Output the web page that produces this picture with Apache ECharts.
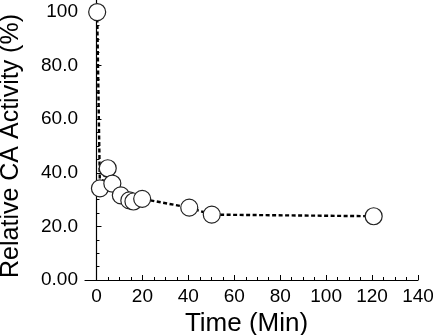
<!DOCTYPE html>
<html>
<head>
<meta charset="utf-8">
<script src="https://cdn.jsdelivr.net/npm/echarts@6/dist/echarts.min.js"></script>
<style>
html,body{margin:0;padding:0;background:#fff;}
#c{width:433px;height:335px;}
</style>
</head>
<body>
<div id="c"></div>
<script>
// Data
const timeMin = [0.3, 1.5, 4.9, 6.9, 10.6, 14.3, 16.1, 19.9, 40.4, 50.2, 120.7];
const activity = [100, 34.2, 41.7, 36, 31.6, 29.7, 29.3, 30.3, 27.0, 24.4, 23.8];

// Axis ticks and labels
const xMajorTicks = [0, 20, 40, 60, 80, 100, 120, 140];
const xMinorTicks = [5, 10, 15, 25, 30, 35, 45, 50, 55, 65, 70, 75, 85, 90, 95, 105, 110, 115, 125, 130, 135];
const yMajorTicks = [0, 20, 40, 60, 80, 100];
const yTickLabels = ['0.00', '20.0', '40.0', '60.0', '80.0', '100'];
const yMinorTicks = [5, 10, 15, 25, 30, 35, 45, 50, 55, 65, 70, 75, 85, 90, 95];

const FONT = 'Liberation Sans, Arial, sans-serif';
const INK = '#000';

const chart = echarts.init(document.getElementById('c'), null, {renderer: 'canvas'});
const grid = {left: 85, right: 15, top: 0, bottom: 55, containLabel: false, outerBoundsMode: 'none'};

const seriesData = timeMin.map((t, i) => [t, activity[i]]);

chart.setOption({
  animation: false,
  backgroundColor: '#fff',
  grid: grid,
  xAxis: [
    {
      type: 'value', min: -5, max: 140,
      name: 'Time (Min)', nameLocation: 'middle', nameGap: 29,
      nameTextStyle: {fontFamily: FONT, fontSize: 26, color: INK, padding: [0, 10, 0, 0]},
      axisLine: {show: true, lineStyle: {color: INK, width: 1.2}},
      axisTick: {show: true, inside: true, length: 5, customValues: xMajorTicks, lineStyle: {color: INK, width: 1}},
      axisLabel: {show: true, customValues: xMajorTicks, margin: 7, fontFamily: FONT, fontSize: 19, color: INK},
      splitLine: {show: false}
    },
    {
      type: 'value', min: -5, max: 140, position: 'bottom',
      axisLine: {show: false},
      axisTick: {show: true, inside: true, length: 3, customValues: xMinorTicks, lineStyle: {color: INK, width: 1}},
      axisLabel: {show: false},
      splitLine: {show: false}
    }
  ],
  yAxis: [
    {
      type: 'value', min: 0, max: 104.5,
      name: 'Relative CA Activity (%)', nameLocation: 'middle', nameGap: 61, nameRotate: 90,
      nameTextStyle: {fontFamily: FONT, fontSize: 25, color: INK, padding: [0, 12, 0, 0]},
      axisLine: {show: true, lineStyle: {color: INK, width: 1.2}},
      axisTick: {show: true, inside: true, length: 5, customValues: yMajorTicks, lineStyle: {color: INK, width: 1}},
      axisLabel: {
        show: true, customValues: yMajorTicks, margin: 7, fontFamily: FONT, fontSize: 19, color: INK,
        formatter: function (v) { const i = yMajorTicks.indexOf(v); return i >= 0 ? yTickLabels[i] : ''; }
      },
      splitLine: {show: false}
    },
    {
      type: 'value', min: 0, max: 104.5, position: 'left',
      axisLine: {show: false},
      axisTick: {show: true, inside: true, length: 3, customValues: yMinorTicks, lineStyle: {color: INK, width: 1}},
      axisLabel: {show: false},
      splitLine: {show: false}
    }
  ],
  series: [{
    type: 'line',
    data: seriesData,
    xAxisIndex: 0, yAxisIndex: 0,
    symbol: 'circle', symbolSize: 17,
    showAllSymbol: true,
    lineStyle: {color: INK, width: 2.4, type: [4, 2.5]},
    itemStyle: {color: '#fff', borderColor: '#222', borderWidth: 1.2},
    z: 3
  }]
});
</script>
</body>
</html>
